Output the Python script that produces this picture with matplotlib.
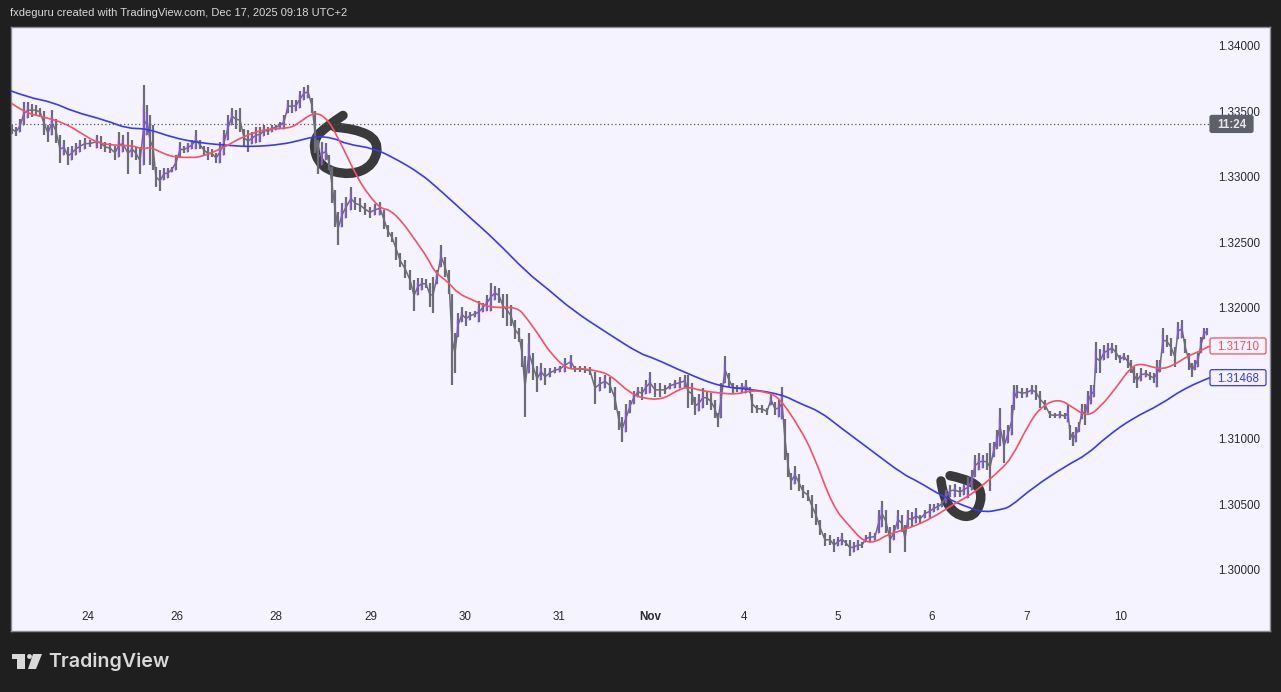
"""GBP/USD style TradingView snapshot: bars with two moving averages."""
import matplotlib
matplotlib.use("Agg")
import matplotlib.pyplot as plt
import numpy as np
from matplotlib.patches import Polygon, Circle, FancyBboxPatch, PathPatch
from matplotlib.path import Path
from matplotlib.transforms import IdentityTransform

W, H = 1281, 692
BG = "#1f1f1f"
PANE = "#f5f3ff"
GREY = "#6c6c78"
PURPLE = "#8a55e0"
RED = "#f7525f"
BLUE = "#3a3af5"
INK = "#3a3a3a"

bar_x = [12, 16, 20, 24, 28, 32, 36, 40, 44, 48, 52, 56, 60, 64, 68, 72, 76, 80, 85, 90,
         97, 101, 105, 110, 115, 119, 123, 128, 132, 136, 140, 144, 147, 150, 153, 156, 160, 164, 168, 172,
         176, 180, 184, 188, 192, 196, 200, 204, 208, 212, 216, 220, 224, 228, 232, 236, 240, 244, 248, 252,
         256, 260, 264, 268, 272, 276, 280, 284, 288, 292, 296, 300, 304, 308, 312, 315, 318, 322, 326, 329,
         332, 335, 338, 342, 346, 351, 355, 360, 365, 370, 375, 380, 384, 388, 392, 396, 400, 405, 410, 414,
         418, 422, 426, 430, 433, 437, 441, 445, 449, 452, 455, 458, 462, 466, 470, 475, 479, 483, 487, 491,
         495, 499, 503, 507, 511, 515, 519, 522, 525, 529, 533, 537, 541, 545, 550, 555, 560, 565, 571, 575,
         580, 585, 590, 595, 600, 605, 610, 615, 619, 622, 626, 630, 634, 638, 642, 646, 650, 655, 660, 665,
         670, 675, 680, 685, 688, 692, 695, 699, 703, 707, 711, 715, 718, 721, 725, 729, 733, 737, 742, 746,
         750, 752, 757, 762, 767, 771, 775, 779, 782, 785, 788, 791, 795, 799, 803, 808, 812, 816, 820, 825,
         830, 834, 838, 842, 846, 850, 854, 858, 862, 866, 870, 875, 879, 882, 886, 890, 894, 898, 902, 905,
         908, 912, 916, 920, 925, 930, 934, 938, 942, 946, 950, 955, 960, 964, 968, 972, 975, 979, 983, 987,
         990, 994, 997, 1000, 1004, 1008, 1012, 1014, 1017, 1022, 1027, 1032, 1036, 1040, 1045, 1050, 1055, 1060, 1065, 1068,
         1070, 1073, 1076, 1079, 1082, 1085, 1088, 1091, 1094, 1096, 1100, 1104, 1108, 1112, 1116, 1120, 1124, 1128, 1131, 1134,
         1137, 1141, 1146, 1150, 1154, 1157, 1160, 1163, 1167, 1171, 1175, 1178, 1182, 1185, 1189, 1192, 1195, 1198, 1201, 1204,
         1207]
bar_high = [1.3340, 1.3338, 1.3344, 1.3357, 1.3357, 1.3356, 1.3355, 1.3353, 1.3350, 1.3340, 1.3351, 1.3344, 1.3332, 1.3328, 1.3323, 1.3324, 1.3326, 1.3328, 1.3330, 1.3328,
            1.3332, 1.3331, 1.3327, 1.3326, 1.3324, 1.3334, 1.3332, 1.3334, 1.3328, 1.3323, 1.3323, 1.3370, 1.3355, 1.3347, 1.3340, 1.3308, 1.3305, 1.3307, 1.3307, 1.3308,
            1.3317, 1.3327, 1.3324, 1.3326, 1.3328, 1.3336, 1.3328, 1.3324, 1.3323, 1.3321, 1.3318, 1.3327, 1.3336, 1.3347, 1.3353, 1.3351, 1.3353, 1.3337, 1.3336, 1.3334,
            1.3338, 1.3338, 1.3340, 1.3338, 1.3340, 1.3340, 1.3342, 1.3347, 1.3359, 1.3359, 1.3359, 1.3366, 1.3369, 1.3370, 1.3360, 1.3350, 1.3328, 1.3327, 1.3326, 1.3317,
            1.3308, 1.3290, 1.3273, 1.3280, 1.3285, 1.3292, 1.3285, 1.3284, 1.3280, 1.3277, 1.3279, 1.3281, 1.3275, 1.3263, 1.3258, 1.3254, 1.3242, 1.3237, 1.3229, 1.3221,
            1.3223, 1.3223, 1.3222, 1.3219, 1.3224, 1.3229, 1.3248, 1.3239, 1.3229, 1.3211, 1.3181, 1.3196, 1.3201, 1.3198, 1.3197, 1.3198, 1.3205, 1.3204, 1.3210, 1.3219,
            1.3217, 1.3215, 1.3211, 1.3211, 1.3202, 1.3191, 1.3185, 1.3176, 1.3163, 1.3181, 1.3166, 1.3156, 1.3158, 1.3154, 1.3154, 1.3155, 1.3156, 1.3162, 1.3164, 1.3156,
            1.3156, 1.3156, 1.3155, 1.3151, 1.3147, 1.3149, 1.3147, 1.3140, 1.3121, 1.3117, 1.3127, 1.3130, 1.3137, 1.3140, 1.3140, 1.3145, 1.3151, 1.3143, 1.3143, 1.3141,
            1.3143, 1.3145, 1.3147, 1.3149, 1.3149, 1.3143, 1.3132, 1.3134, 1.3139, 1.3137, 1.3135, 1.3130, 1.3120, 1.3143, 1.3163, 1.3150, 1.3143, 1.3141, 1.3143, 1.3145,
            1.3140, 1.3134, 1.3126, 1.3126, 1.3124, 1.3134, 1.3128, 1.3130, 1.3140, 1.3115, 1.3089, 1.3074, 1.3079, 1.3073, 1.3065, 1.3061, 1.3057, 1.3050, 1.3038, 1.3028,
            1.3027, 1.3024, 1.3025, 1.3028, 1.3023, 1.3023, 1.3021, 1.3023, 1.3021, 1.3027, 1.3029, 1.3028, 1.3046, 1.3053, 1.3046, 1.3033, 1.3034, 1.3046, 1.3042, 1.3034,
            1.3046, 1.3044, 1.3047, 1.3042, 1.3046, 1.3050, 1.3050, 1.3051, 1.3053, 1.3061, 1.3065, 1.3066, 1.3063, 1.3066, 1.3071, 1.3076, 1.3088, 1.3089, 1.3088, 1.3089,
            1.3097, 1.3098, 1.3107, 1.3124, 1.3107, 1.3111, 1.3126, 1.3141, 1.3141, 1.3139, 1.3139, 1.3141, 1.3141, 1.3137, 1.3130, 1.3121, 1.3120, 1.3121, 1.3120, 1.3126,
            1.3111, 1.3105, 1.3109, 1.3113, 1.3127, 1.3127, 1.3137, 1.3141, 1.3141, 1.3174, 1.3169, 1.3172, 1.3173, 1.3173, 1.3172, 1.3164, 1.3166, 1.3164, 1.3160, 1.3155,
            1.3150, 1.3154, 1.3153, 1.3151, 1.3150, 1.3160, 1.3160, 1.3185, 1.3179, 1.3177, 1.3170, 1.3189, 1.3191, 1.3176, 1.3166, 1.3158, 1.3160, 1.3166, 1.3178, 1.3185,
            1.3185]
bar_low = [1.3333, 1.3331, 1.3334, 1.3340, 1.3345, 1.3346, 1.3347, 1.3346, 1.3332, 1.3327, 1.3332, 1.3326, 1.3311, 1.3317, 1.3309, 1.3313, 1.3317, 1.3319, 1.3321, 1.3323,
           1.3322, 1.3321, 1.3319, 1.3318, 1.3313, 1.3315, 1.3319, 1.3302, 1.3315, 1.3313, 1.3302, 1.3309, 1.3332, 1.3309, 1.3305, 1.3292, 1.3289, 1.3298, 1.3299, 1.3304,
           1.3305, 1.3315, 1.3318, 1.3319, 1.3321, 1.3321, 1.3321, 1.3317, 1.3313, 1.3315, 1.3311, 1.3311, 1.3317, 1.3328, 1.3340, 1.3337, 1.3334, 1.3323, 1.3319, 1.3325,
           1.3326, 1.3327, 1.3331, 1.3332, 1.3334, 1.3336, 1.3337, 1.3337, 1.3349, 1.3349, 1.3350, 1.3353, 1.3359, 1.3360, 1.3349, 1.3318, 1.3302, 1.3309, 1.3313, 1.3305,
           1.3280, 1.3262, 1.3248, 1.3262, 1.3269, 1.3275, 1.3275, 1.3273, 1.3271, 1.3269, 1.3271, 1.3271, 1.3260, 1.3254, 1.3250, 1.3237, 1.3231, 1.3223, 1.3214, 1.3198,
           1.3210, 1.3214, 1.3215, 1.3201, 1.3196, 1.3218, 1.3231, 1.3224, 1.3211, 1.3141, 1.3150, 1.3178, 1.3189, 1.3186, 1.3191, 1.3193, 1.3189, 1.3197, 1.3198, 1.3198,
           1.3206, 1.3204, 1.3192, 1.3186, 1.3186, 1.3176, 1.3174, 1.3155, 1.3117, 1.3150, 1.3145, 1.3136, 1.3145, 1.3141, 1.3147, 1.3150, 1.3151, 1.3151, 1.3154, 1.3151,
           1.3151, 1.3150, 1.3149, 1.3127, 1.3137, 1.3139, 1.3135, 1.3122, 1.3107, 1.3098, 1.3105, 1.3120, 1.3127, 1.3132, 1.3130, 1.3134, 1.3135, 1.3132, 1.3132, 1.3134,
           1.3138, 1.3139, 1.3139, 1.3140, 1.3124, 1.3126, 1.3118, 1.3121, 1.3124, 1.3126, 1.3122, 1.3116, 1.3109, 1.3116, 1.3143, 1.3140, 1.3135, 1.3136, 1.3135, 1.3135,
           1.3135, 1.3120, 1.3120, 1.3120, 1.3118, 1.3126, 1.3118, 1.3117, 1.3115, 1.3084, 1.3071, 1.3061, 1.3066, 1.3060, 1.3055, 1.3053, 1.3040, 1.3034, 1.3027, 1.3018,
           1.3019, 1.3014, 1.3018, 1.3019, 1.3018, 1.3011, 1.3014, 1.3015, 1.3017, 1.3021, 1.3021, 1.3023, 1.3028, 1.3033, 1.3028, 1.3013, 1.3023, 1.3031, 1.3029, 1.3014,
           1.3033, 1.3033, 1.3036, 1.3036, 1.3040, 1.3040, 1.3044, 1.3046, 1.3048, 1.3051, 1.3056, 1.3056, 1.3056, 1.3057, 1.3055, 1.3061, 1.3071, 1.3076, 1.3078, 1.3076,
           1.3060, 1.3086, 1.3092, 1.3095, 1.3082, 1.3097, 1.3103, 1.3122, 1.3131, 1.3131, 1.3132, 1.3134, 1.3130, 1.3124, 1.3122, 1.3116, 1.3116, 1.3116, 1.3115, 1.3113,
           1.3099, 1.3095, 1.3098, 1.3105, 1.3115, 1.3111, 1.3120, 1.3127, 1.3132, 1.3150, 1.3150, 1.3160, 1.3162, 1.3166, 1.3160, 1.3158, 1.3160, 1.3154, 1.3150, 1.3143,
           1.3139, 1.3144, 1.3147, 1.3145, 1.3143, 1.3140, 1.3151, 1.3166, 1.3170, 1.3163, 1.3155, 1.3176, 1.3177, 1.3166, 1.3153, 1.3147, 1.3153, 1.3155, 1.3166, 1.3176,
           1.3179]

ma_fast_x = [10, 25, 43, 65, 80, 97, 117, 133, 143, 150, 163, 175, 190, 200, 223, 243, 267, 290, 300, 315,
             328, 340, 357, 367, 380, 390, 403, 415, 427, 435, 448, 458, 473, 490, 517, 527, 540, 550, 567, 580,
             597, 610, 630, 643, 662, 677, 688, 700, 720, 737, 750, 767, 780, 800, 813, 833, 850, 863, 875, 887,
             910, 933, 953, 970, 980, 1000, 1012, 1027, 1040, 1058, 1073, 1087, 1100, 1117, 1130, 1140, 1160, 1173, 1187, 1197,
             1210]
ma_fast = [1.3357, 1.3349, 1.3346, 1.3341, 1.3334, 1.3326, 1.3324, 1.3324, 1.3321, 1.3323, 1.3318, 1.3315, 1.3315, 1.3315, 1.3322, 1.3331, 1.3337, 1.3337, 1.3342, 1.3350,
           1.3344, 1.3327, 1.3300, 1.3288, 1.3276, 1.3275, 1.3265, 1.3252, 1.3239, 1.3227, 1.3220, 1.3211, 1.3206, 1.3200, 1.3201, 1.3192, 1.3178, 1.3166, 1.3153, 1.3154,
           1.3152, 1.3149, 1.3135, 1.3131, 1.3130, 1.3137, 1.3140, 1.3137, 1.3135, 1.3134, 1.3137, 1.3136, 1.3131, 1.3108, 1.3089, 1.3048, 1.3033, 1.3022, 1.3021, 1.3027,
           1.3032, 1.3040, 1.3050, 1.3057, 1.3063, 1.3076, 1.3086, 1.3109, 1.3124, 1.3131, 1.3124, 1.3117, 1.3124, 1.3140, 1.3154, 1.3158, 1.3153, 1.3156, 1.3163, 1.3166,
           1.3171]
ma_slow_x = [10, 27, 53, 73, 107, 127, 147, 173, 200, 230, 253, 283, 300, 315, 333, 347, 373, 393, 420, 440,
             470, 495, 527, 547, 573, 607, 640, 653, 687, 720, 750, 782, 800, 820, 840, 870, 903, 917, 943, 970,
             985, 1000, 1010, 1033, 1067, 1087, 1107, 1133, 1160, 1187, 1210]
ma_slow = [1.3366, 1.3361, 1.3357, 1.3350, 1.3343, 1.3337, 1.3337, 1.3330, 1.3326, 1.3324, 1.3323, 1.3325, 1.3328, 1.3331, 1.3330, 1.3325, 1.3322, 1.3315, 1.3303, 1.3290,
           1.3269, 1.3252, 1.3227, 1.3215, 1.3198, 1.3181, 1.3165, 1.3162, 1.3150, 1.3140, 1.3138, 1.3134, 1.3127, 1.3121, 1.3109, 1.3092, 1.3073, 1.3068, 1.3056, 1.3047,
           1.3044, 1.3046, 1.3048, 1.3063, 1.3080, 1.3088, 1.3102, 1.3116, 1.3126, 1.3140, 1.31468]

scribble_a_x = [343, 325, 312, 320, 350, 374, 379, 355, 335]
scribble_a_y = [1.3347, 1.3338, 1.3327, 1.3307, 1.3301, 1.3309, 1.3328, 1.3337, 1.3338]
scribble_b_x = [950, 975, 983, 974, 955, 943, 941]
scribble_b_y = [1.3072, 1.3068, 1.3056, 1.3040, 1.3042, 1.3056, 1.3068]

price_ticks = [1.30, 1.305, 1.31, 1.315, 1.32, 1.325, 1.33, 1.335, 1.34]
date_pos = [88, 177, 276, 371, 465, 559, 650, 744, 838, 932, 1027, 1121]
date_labels = ["24", "26", "28", "29", "30", "31", "Nov", "4", "5", "6", "7", "10"]
last_level = 1.33405
last_fast = 1.31710
last_slow = 1.31468

plt.rcParams["font.family"] = ["Liberation Sans", "DejaVu Sans"]


def fx(px):
    return px / W


def fy(py):
    return 1 - py / H


def smooth(ax, xs, ys, **kw):
    """Draw a line as quadratic curves, with the listed points as controls."""
    pts = np.column_stack([xs, ys])
    verts = [pts[0]]
    codes = [Path.MOVETO]
    for i in range(1, len(pts) - 1):
        end = pts[i + 1] if i == len(pts) - 2 else (pts[i] + pts[i + 1]) / 2
        verts += [pts[i], end]
        codes += [Path.CURVE3, Path.CURVE3]
    ax.add_patch(PathPatch(Path(verts, codes), fc="none", **kw))


fig = plt.figure(figsize=(W / 100, H / 100), dpi=100, facecolor=BG)
ax = fig.add_axes([fx(11), fy(631), fx(1270) - fx(11), fy(27) - fy(631)], facecolor=PANE)
ax.set_xlim(11, 1270)
ax.set_ylim(1.29534, 1.34145)
for s in ax.spines.values():
    s.set_color("#8b8b96")
    s.set_linewidth(1.0)

x = np.array(bar_x)
hi = np.array(bar_high)
lo = np.array(bar_low)
mid = (hi + lo) / 2

# hand drawn circles sit under the bars
for sx, sy in [(scribble_a_x, scribble_a_y), (scribble_b_x, scribble_b_y)]:
    smooth(ax, sx, sy, ec=INK, lw=6.8, capstyle="round", joinstyle="round", zorder=1)

ax.hlines(last_level, 11, 1210, color="#55555f", lw=0.9, linestyles=(0, (1, 2)), zorder=2)

ax.vlines(x, lo, hi, color=GREY, lw=1.6, zorder=3)
ax.plot(x, mid, color=GREY, lw=1.1, zorder=3)
up = np.r_[False, mid[1:] > mid[:-1]]
ax.vlines(x[up] - 1.3, lo[up], mid[up] + (hi[up] - mid[up]) / 2, color=PURPLE, lw=1.0, zorder=4)

smooth(ax, ma_slow_x, ma_slow, ec=BLUE, lw=1.2, zorder=5)
smooth(ax, ma_fast_x, ma_fast, ec=RED, lw=1.2, zorder=5)

ax.yaxis.tick_right()
ax.set_yticks(price_ticks)
ax.set_yticklabels([f"{p:.5f}" for p in price_ticks])
ax.tick_params(axis="y", length=0, pad=-37.5, labelsize=8.4, labelcolor="#2a2a33")
ax.set_xticks(date_pos)
ax.set_xticklabels(date_labels)
ax.tick_params(axis="x", length=0, pad=-14.5, labelsize=8.4, labelcolor="#2a2a33")
for lab in ax.get_xticklabels():
    if lab.get_text() == "Nov":
        lab.set_fontweight("bold")


def price_tag(price, text, color, left, right, face, edge, half=8, **kw):
    yd = ax.transData.transform((0, price))[1]
    ax.add_patch(FancyBboxPatch((left + 2, yd - half + 2), right - left - 4, 2 * half - 4,
                                boxstyle="round,pad=2,rounding_size=2", fc=face, ec=edge, lw=0.9,
                                transform=IdentityTransform(), clip_on=False, zorder=7))
    ax.annotate(text, xy=((left + right) / 2 / W, price), xycoords=(fig.transFigure, "data"),
                ha="center", va="center_baseline", fontsize=8.4, color=color, zorder=8, **kw)


price_tag(last_fast, "1.31710", RED, 1210, 1266, PANE, RED)
price_tag(last_slow, "1.31468", BLUE, 1210, 1266, PANE, BLUE)
price_tag(last_level, "11:24", "#e6e6ea", 1210, 1253, "#5d5f6b", "#5d5f6b", half=8.5, fontweight="bold")

fig.text(fx(10), fy(13), "fxdeguru created with TradingView.com, Dec 17, 2025 09:18 UTC+2",
         color="#d9d9d9", fontsize=8.05, va="center", ha="left")

# logo, drawn in figure pixels
logo_col = "#d9d9d9"
for pts in [
    [(12, 654), (25, 654), (25, 669), (17, 669), (17, 659), (12, 659)],
    [(33, 654), (42, 654), (36, 669), (28, 669)],
]:
    fig.add_artist(Polygon([(fx(a), fy(b)) for a, b in pts], closed=True, fc=logo_col, ec="none",
                           transform=fig.transFigure))
fig.add_artist(Circle((29.5, H - 656.5), 2.4, fc=logo_col, ec="none", transform=IdentityTransform()))
fig.text(fx(48), fy(662), "TradingView", color=logo_col, fontsize=14.1, fontweight="semibold",
         family="Inter", va="center", ha="left")

fig.savefig("out.png", dpi=100, facecolor=BG)
